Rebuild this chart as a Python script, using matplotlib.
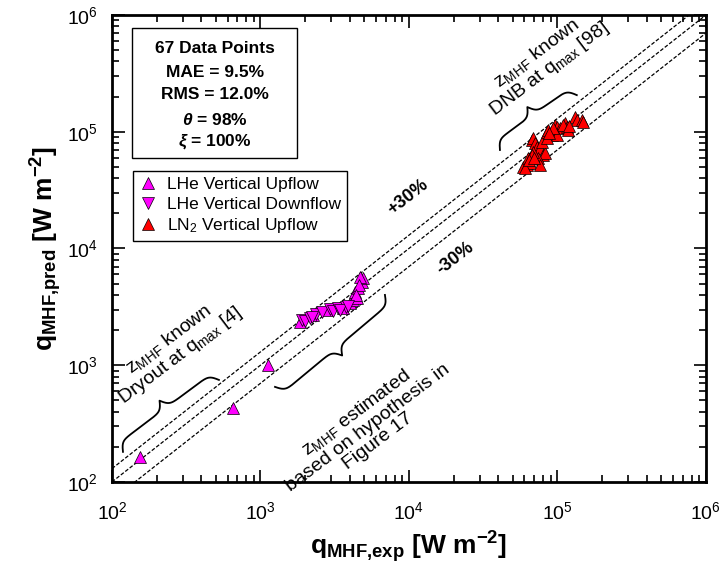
import numpy as np
import matplotlib.pyplot as plt
from matplotlib.lines import Line2D
from matplotlib.patches import Rectangle
from matplotlib.ticker import LogLocator, NullFormatter

plt.rcParams['font.family'] = ['Liberation Sans', 'DejaVu Sans']
plt.rcParams['mathtext.fontset'] = 'custom'
plt.rcParams['mathtext.rm'] = 'Liberation Sans'
plt.rcParams['mathtext.it'] = 'Liberation Sans:bold:italic'
plt.rcParams['mathtext.bf'] = 'Liberation Sans:bold'

# LHe vertical upflow
lhe_up_exp = [154, 653, 1122, 1845, 2258, 2806, 3597, 4010, 4200, 4466, 4330, 4535, 4830, 4900, 4677, 4600, 4400]
lhe_up_pred = [164, 430, 1005, 2345, 2693, 2972, 3093, 3413, 3620, 3765, 4240, 4590, 5165, 5590, 5700, 4900, 4000]

# LHe vertical downflow
lhe_down_exp = [1901, 1993, 2155, 2364, 2596, 2938, 3077, 3324, 3767, 3430, 3882, 2223]
lhe_down_pred = [2443, 2393, 2540, 2749, 2858, 3034, 2918, 3093, 3155, 2972, 3218, 2590]

# LN2 vertical upflow
ln2_exp = [58600, 62300, 65300, 63300, 67300, 68400, 70500, 72700, 76200, 79800,
           82400, 78700, 84900, 86300, 96200, 99300, 104000, 112400, 116000, 117800,
           131200, 135300, 146200, 148600, 73900, 68400, 67300, 91800, 99300, 108900,
           76200, 60400, 84900, 93300, 64000, 88000, 120000, 70000]
ln2_pred = [49900, 51900, 53900, 59600, 84900, 88300, 80100, 74000, 72600, 63200,
            65800, 81700, 99600, 103500, 114200, 109900, 107700, 118800, 109900, 103500,
            133600, 126100, 126100, 121400, 59600, 67100, 63200, 93700, 93700, 114200,
            51900, 49000, 88300, 107700, 57000, 97000, 112000, 60000]

stats = ["67 Data Points", "MAE = 9.5%", "RMS = 12.0%", r"$\theta$ = 98%", r"$\xi$ = 100%"]

fig = plt.figure(figsize=(7.21, 5.71), dpi=100)
ax = fig.add_axes([0.1553, 0.156, 0.8238, 0.8177])
ax.set_xscale('log')
ax.set_yscale('log')
ax.set_xlim(1e2, 1e6)
ax.set_ylim(1e2, 1e6)

# parity lines
xl = np.array([1e2, 1e6])
for f in [1.0, 1.3, 0.7]:
    ax.plot(xl, f * xl, color='black', lw=0.9, ls=(0, (3, 1.5)), zorder=1)

mk = dict(ms=9, mec='black', mew=0.5, ls='none', zorder=3)
ax.plot(lhe_up_exp, lhe_up_pred, marker='^', mfc='#ff00ff', **mk)
ax.plot(lhe_down_exp, lhe_down_pred, marker='v', mfc='#ff00ff', **mk)
ax.plot(ln2_exp, ln2_pred, marker='^', mfc='#ff0000', **mk)

ax.text(9840, 27600, '+30%', rotation=38, ha='center', va='center',
        fontsize=13, fontweight='bold', rotation_mode='anchor')
ax.text(20400, 8300, '-30%', rotation=38, ha='center', va='center',
        fontsize=13, fontweight='bold', rotation_mode='anchor')


def brace(p1, p2, h=19, beta=0.35):
    # curly brace between two data points, bulging to the left of p1->p2 (display)
    a = ax.transData.transform(p1)
    b = ax.transData.transform(p2)
    d = b - a
    L = np.hypot(*d)
    u = d / L
    n = np.array([-u[1], u[0]])
    t = np.linspace(0, L / 2, 200)
    half = 1 / (1 + np.exp(-beta * (t - t[0]))) + 1 / (1 + np.exp(-beta * (t - t[-1])))
    yy = np.concatenate([half, half[-2::-1]])
    tt = np.concatenate([t, L - t[-2::-1]])
    yy = h * (yy - 0.5)
    pts = a + np.outer(tt, u) + np.outer(yy, n)
    fig.add_artist(Line2D(pts[:, 0], pts[:, 1], color='black', lw=1.3,
                          transform=None))


fig.canvas.draw()
brace((118.6, 181), (525, 748))
brace((6890, 4000), (1253, 652))
brace((41000, 69800), (135000, 206000))

ann = dict(rotation=37, ha='center', va='center', fontsize=14,
           rotation_mode='anchor', linespacing=1.0, multialignment='center')
ax.text(265, 1420, "$\\mathrm{z}_{\\mathrm{MHF}}$ known\nDryout at $\\mathrm{q}_{\\mathrm{max}}$ [4]", **ann)
ax.text(5200, 300, "$\\mathrm{z}_{\\mathrm{MHF}}$ estimated\nbased on hypothesis in\nFigure 17", **ann)
ax.text(79800, 400000, "$\\mathrm{z}_{\\mathrm{MHF}}$ known\nDNB at $\\mathrm{q}_{\\mathrm{max}}$ [98]", **ann)

# statistics box
ax.add_patch(Rectangle((0.034, 0.694), 0.278, 0.278, transform=ax.transAxes,
                       fill=False, ec='black', lw=1.0, zorder=4))
for s, yy in zip(stats, [0.929, 0.876, 0.829, 0.775, 0.728]):
    ax.text(0.173, yy, s, transform=ax.transAxes, ha='center', va='center',
            fontsize=12.5, fontweight='bold')

handles = [Line2D([], [], marker='^', mfc='#ff00ff', mec='black', mew=0.5, ls='none', ms=8),
           Line2D([], [], marker='v', mfc='#ff00ff', mec='black', mew=0.5, ls='none', ms=8),
           Line2D([], [], marker='^', mfc='#ff0000', mec='black', mew=0.5, ls='none', ms=8)]
leg = ax.legend(handles, ['LHe Vertical Upflow', 'LHe Vertical Downflow', 'LN$_2$ Vertical Upflow'],
                loc='upper left', bbox_to_anchor=(0.035, 0.666), fontsize=12.5,
                fancybox=False, framealpha=1, edgecolor='black', borderpad=0.35,
                handlelength=1.0, handletextpad=0.6, labelspacing=0.25, borderaxespad=0)
leg.get_frame().set_linewidth(1.0)

ax.set_xlabel(r"$\mathbf{q}_{\mathbf{MHF{,}exp}}$ [W m$^{\mathbf{-2}}$]", fontsize=19,
              fontweight='bold', labelpad=4)
ax.set_ylabel(r"$\mathbf{q}_{\mathbf{MHF{,}pred}}$ [W m$^{\mathbf{-2}}$]", fontsize=19,
              fontweight='bold', labelpad=2)

for axis in [ax.xaxis, ax.yaxis]:
    axis.set_major_locator(LogLocator(base=10, numticks=10))
    axis.set_minor_locator(LogLocator(base=10, subs=np.arange(2, 10), numticks=10))
    axis.set_minor_formatter(NullFormatter())
ax.tick_params(which='both', direction='in', top=True, right=True, labelsize=14, width=1.2)
ax.tick_params(axis='x', which='major', length=9, pad=14)
ax.tick_params(axis='y', which='major', length=9, pad=10)
ax.tick_params(which='minor', length=5)
for sp in ax.spines.values():
    sp.set_linewidth(2)

fig.savefig('out.png', dpi=100)
